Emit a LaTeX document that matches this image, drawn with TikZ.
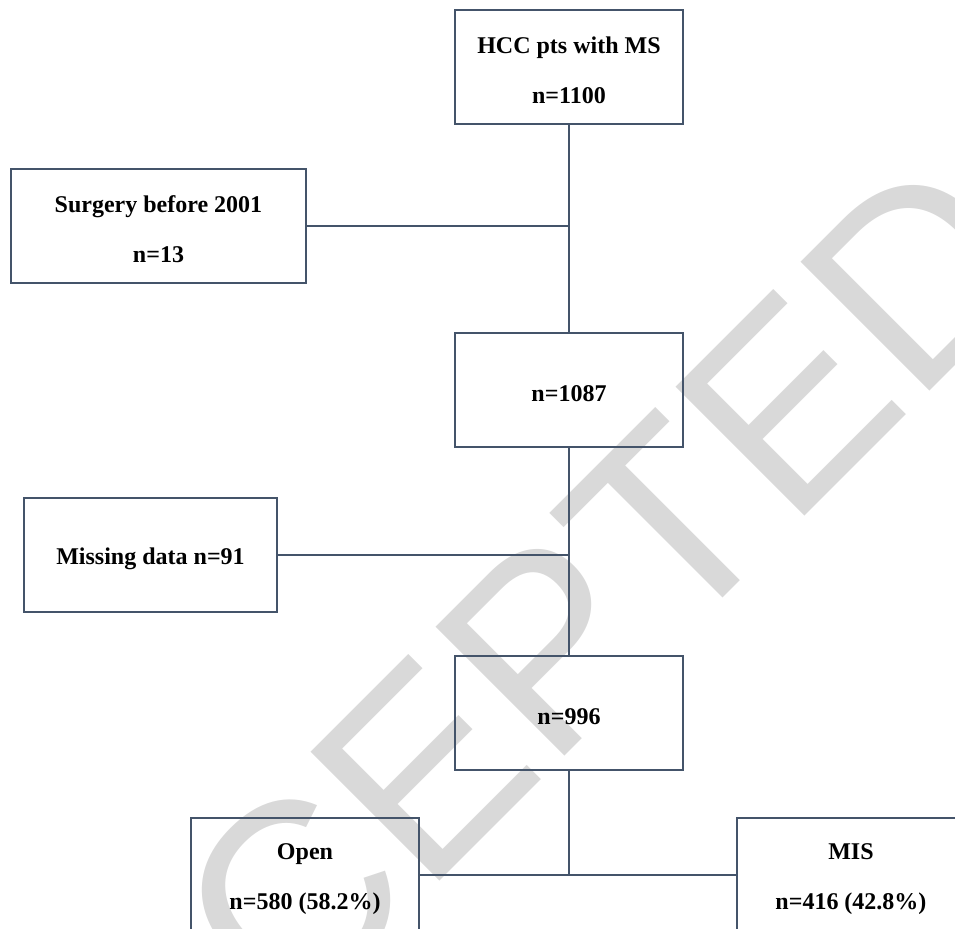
\documentclass[tikz,border=0pt]{standalone}
\usepackage{fontspec}
\setmainfont{Liberation Serif}
\newfontfamily\wmfont{Liberation Sans}
\usetikzlibrary{positioning}
\definecolor{frame}{HTML}{44546A}
\definecolor{wmgray}{HTML}{D9D9D9}
\tikzset{
  every node/.style={text=black},
  box/.style={draw=frame,line width=1.2pt,outer sep=0pt,minimum width=114pt,minimum height=57pt,align=center,inner sep=2pt,
    font=\fontsize{12pt}{25pt}\selectfont\bfseries},
  widebox/.style={box,minimum width=147.5pt},
  midbox/.style={box,minimum width=126.5pt},
  link/.style={draw=frame,line width=1.2pt},
  stamp/.style={text=wmgray,font=\fontsize{132.5pt}{140pt}\selectfont\wmfont,inner sep=0pt,anchor=base west,rotate=45},
}
\newcommand{\lift}{\rule{0pt}{12pt}}

\begin{document}
\begin{tikzpicture}[x=0.5pt,y=-0.5pt]
\useasboundingbox (0,0) rectangle (955,929);
\clip (0,0) rectangle (955,929);

% watermark behind everything
\node[stamp] (wm) at (29,1292) {ACCEPTED};

% main column
\node[box] (top) at (569,67) {\lift HCC pts with MS\\n=1100};
\node[box,below=104.5pt of top] (n1087) {\lift n=1087};
\node[box,below=104.5pt of n1087] (n996) {\lift n=996};

% exclusions
\node[widebox,below left=22.5pt and 74.5pt of top] (surgery) {\lift Surgery before 2001\\n=13};
\node[midbox,below left=25.5pt and 89pt of n1087] (missing) {\lift Missing data n=91};

% groups
\node[box,below left=24pt and 18pt of n996] (open) {\lift Open\\n=580 (58.2\%)};
\node[box,below right=24pt and 27pt of n996] (mis) {\lift MIS\\n=416 (42.8\%)};

\coordinate (j1) at (surgery.east -| top.south);
\coordinate (j2) at (missing.east -| n1087.south);
\coordinate (j3) at (open.east -| n996.south);

\draw[link] (top) -- (n1087);
\draw[link] (surgery) -- (j1);
\draw[link] (n1087) -- (n996);
\draw[link] (missing) -- (j2);
\draw[link] (n996) -- (j3);
\draw[link] (open) -- (mis);

\end{tikzpicture}
\end{document}
